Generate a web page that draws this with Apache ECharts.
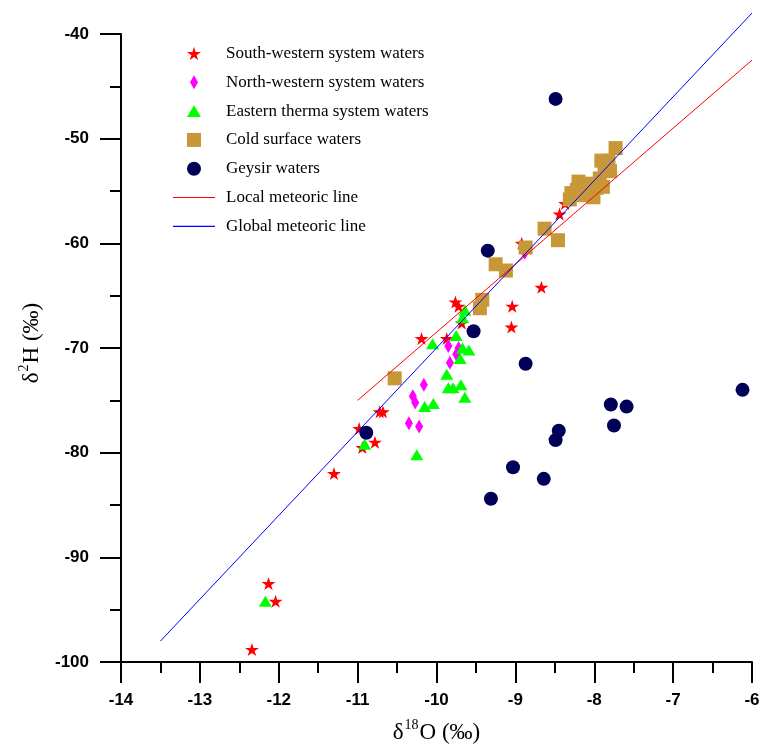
<!DOCTYPE html>
<html>
<head>
<meta charset="utf-8">
<script src="https://cdn.jsdelivr.net/npm/echarts@6/dist/echarts.min.js"></script>
<style>
  html, body { margin: 0; padding: 0; background: #fff; }
  #chart { width: 771px; height: 749px; }
</style>
</head>
<body>
<div id="chart"></div>
<script>
// δ18O / δ2H pairs per water group
const southWestern = [
  [-12.34, -98.8], [-12.13, -92.5], [-12.04, -94.2], [-11.30, -82.0],
  [-10.98, -77.7], [-10.94, -79.5], [-10.78, -79.0], [-10.72, -76.1],
  [-10.68, -76.1], [-10.19, -69.1], [-9.87, -69.1], [-9.76, -65.6],
  [-9.72, -66.0], [-9.68, -67.6], [-9.04, -66.0], [-9.05, -68.0],
  [-8.67, -64.2], [-8.92, -60.0], [-8.44, -57.2], [-8.37, -56.2]
];
const northWestern = [
  [-10.16, -73.5], [-10.30, -74.6], [-10.27, -75.2], [-10.35, -77.2],
  [-10.22, -77.5], [-9.85, -69.8], [-9.72, -70.0], [-9.75, -70.6],
  [-9.83, -71.4], [-8.88, -60.9]
];
const easternThermal = [
  [-12.17, -94.2], [-10.91, -79.2], [-10.25, -80.2], [-10.15, -75.6],
  [-10.04, -75.3], [-9.87, -72.5], [-9.85, -73.8], [-9.79, -73.8],
  [-9.69, -73.5], [-9.64, -74.7], [-9.70, -71.0], [-9.67, -70.0],
  [-9.59, -70.2], [-9.75, -68.8], [-10.05, -69.6], [-9.64, -66.4],
  [-9.67, -67.1]
];
const coldSurface = [
  [-10.53, -72.9], [-9.42, -65.4], [-9.45, -66.2], [-9.25, -62.0],
  [-9.12, -62.6], [-8.87, -60.4], [-8.63, -58.6], [-8.46, -59.7],
  [-7.73, -50.9], [-7.91, -52.1], [-7.82, -52.1], [-7.80, -53.1],
  [-7.87, -53.0], [-8.20, -54.1], [-8.08, -54.3], [-7.93, -53.8],
  [-8.22, -54.9], [-8.10, -54.9], [-7.97, -54.7], [-8.29, -55.2],
  [-8.31, -55.8], [-8.16, -55.4], [-8.01, -55.6], [-7.89, -54.6]
];
const geysir = [
  [-8.49, -46.2], [-9.35, -60.7], [-9.53, -68.4], [-10.89, -78.1],
  [-8.87, -71.5], [-9.03, -81.4], [-9.31, -84.4], [-8.64, -82.5],
  [-8.45, -77.9], [-8.49, -78.8], [-7.79, -75.4], [-7.59, -75.6],
  [-7.75, -77.4], [-6.12, -74.0]
];
// meteoric water lines (end points)
const localLine = [[-11, -75], [-6, -42.5]];
const globalLine = [[-13.5, -98], [-6, -38]];

const pointNames = [
  'South-western system waters',
  'North-western system waters',
  'Eastern therma system waters',
  'Cold surface waters',
  'Geysir waters'
];
const lineNames = ['Local meteoric line', 'Global meteoric line'];

const STAR = 'path://M50,0L61,35L98,35L68,57L79,91L50,70L21,91L32,57L2,35L39,35Z';
const DIAMOND = 'path://M4,0L8,7L4,14L0,7Z';
const TRIANGLE = 'path://M6,0L12,10L0,10Z';
const SQUARE = 'path://M0,0L10,0L10,10L0,10Z';

const serif = 'Liberation Serif, Times New Roman, serif';
const sans = 'Liberation Sans, Arial, sans-serif';

const chart = echarts.init(document.getElementById('chart'), null, { renderer: 'canvas' });

const axisCommon = {
  axisLine: { show: true, onZero: false, lineStyle: { color: '#000', width: 2 } },
  axisTick: { show: true, inside: false, length: 21, lineStyle: { color: '#000', width: 2 } },
  minorTick: { show: true, splitNumber: 2, length: 11, lineStyle: { color: '#000', width: 2 } },
  splitLine: { show: false },
  minorSplitLine: { show: false }
};

const nameRich = {
  a: { fontFamily: serif, fontSize: 23, color: '#000', lineHeight: 26, verticalAlign: 'bottom' },
  s: { fontFamily: serif, fontSize: 14, color: '#000', lineHeight: 26, verticalAlign: 'top', padding: [0, 1, 0, 1] }
};

const legendText = { fontFamily: serif, fontSize: 17, color: '#000', lineHeight: 17, height: 17 };
const ROW = 28.8;

chart.setOption({
  animation: false,
  backgroundColor: '#fff',
  grid: { left: 121, right: 19, top: 34, bottom: 84, containLabel: false },
  xAxis: Object.assign({
    type: 'value', min: -14, max: -6, interval: 1,
    axisLabel: { margin: 30, color: '#000', fontFamily: sans, fontWeight: 'bold', fontSize: 17 },
    name: '{a|δ}{s|18}{a|O (‰)}',
    nameLocation: 'middle',
    nameGap: 56,
    nameTextStyle: { rich: nameRich }
  }, axisCommon),
  yAxis: Object.assign({
    type: 'value', min: -100, max: -40, interval: 10,
    axisLabel: { margin: 32, color: '#000', fontFamily: sans, fontWeight: 'bold', fontSize: 17 },
    name: '{a|δ}{s|2}{a|H (‰)}',
    nameLocation: 'middle',
    nameGap: 78,
    nameTextStyle: { padding: [0, 0, 0, 10], rich: nameRich }
  }, axisCommon),
  legend: [
    {
      orient: 'vertical',
      left: 187,
      top: 53 - 8,
      padding: 0,
      itemWidth: 14,
      itemHeight: 14,
      itemGap: ROW - 17,
      selectedMode: false,
      symbolKeepAspect: true,
      textStyle: Object.assign({ padding: [0, 0, 0, 20] }, legendText),
      data: [
        { name: pointNames[0], icon: STAR },
        { name: pointNames[1], icon: DIAMOND },
        { name: pointNames[2], icon: TRIANGLE },
        { name: pointNames[3], icon: SQUARE },
        { name: pointNames[4], icon: 'circle' }
      ]
    },
    {
      orient: 'vertical',
      left: 173,
      top: 53 + 5 * ROW - 8,
      padding: 0,
      itemWidth: 42,
      itemHeight: 1.2,
      itemGap: ROW - 17,
      selectedMode: false,
      symbolKeepAspect: false,
      textStyle: Object.assign({ padding: [0, 0, 0, 6] }, legendText),
      data: [
        { name: lineNames[0], icon: 'rect' },
        { name: lineNames[1], icon: 'rect' }
      ]
    }
  ],
  series: [
    {
      name: pointNames[0], type: 'scatter', data: southWestern,
      symbol: STAR, symbolSize: [14, 13],
      itemStyle: { color: '#ff0000', opacity: 1 }
    },
    {
      name: pointNames[1], type: 'scatter', data: northWestern,
      symbol: DIAMOND, symbolSize: [8, 14],
      itemStyle: { color: '#ff00ff', opacity: 1 }
    },
    {
      name: pointNames[2], type: 'scatter', data: easternThermal,
      symbol: TRIANGLE, symbolSize: [13, 11],
      itemStyle: { color: '#00ff00', opacity: 1 }
    },
    {
      name: pointNames[3], type: 'scatter', data: coldSurface,
      symbol: SQUARE, symbolSize: 14,
      itemStyle: { color: '#c89838', opacity: 1 }
    },
    {
      name: pointNames[4], type: 'scatter', data: geysir,
      symbol: 'circle', symbolSize: 14,
      itemStyle: { color: '#000058', opacity: 1 }
    },
    {
      name: lineNames[0], type: 'line', data: localLine,
      symbol: 'none', clip: false, silent: true,
      lineStyle: { color: '#ff0000', width: 1 },
      itemStyle: { color: '#ff0000' }
    },
    {
      name: lineNames[1], type: 'line', data: globalLine,
      symbol: 'none', clip: false, silent: true,
      lineStyle: { color: '#0000ff', width: 1 },
      itemStyle: { color: '#0000ff' }
    }
  ]
});
</script>
</body>
</html>
